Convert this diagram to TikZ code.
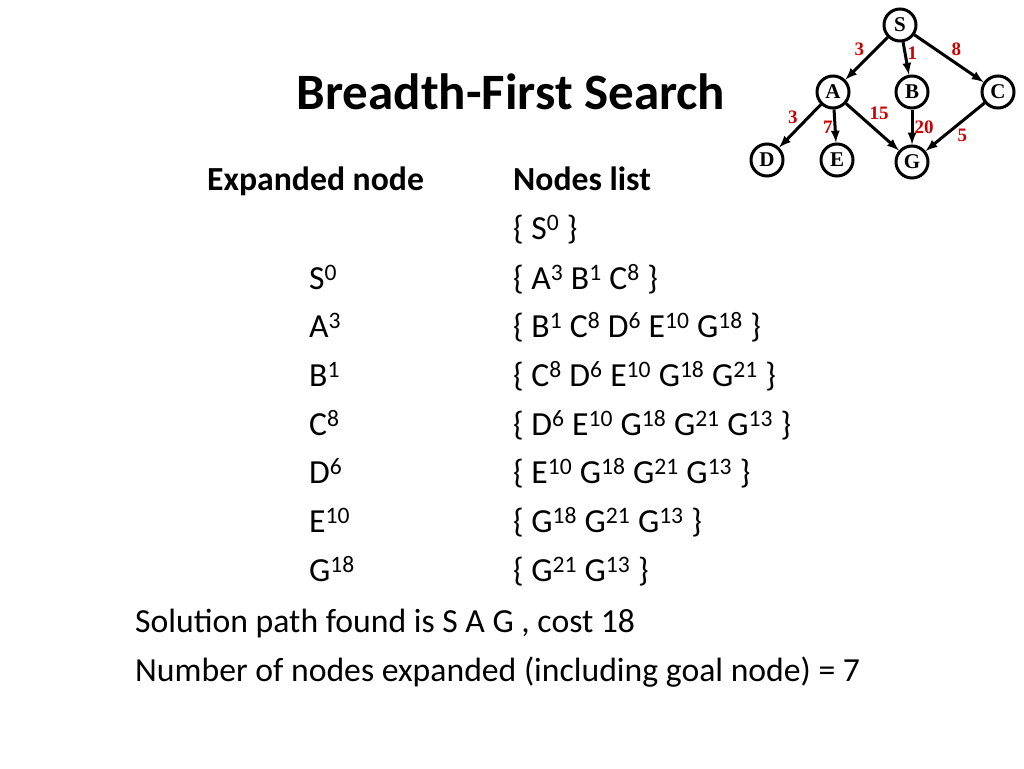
\documentclass[tikz,border=0pt]{standalone}
\usepackage{fontspec}
\setmainfont{Carlito}
\newfontfamily\graphfont{Liberation Serif}
\begin{document}
\begin{tikzpicture}[x=1pt,y=-1pt,
        txt/.style={anchor=west,inner sep=0pt,yshift=-7pt,text height=0.7em,text depth=0.2em,font=\fontsize{33.7}{35}\selectfont},
        head/.style={txt,font=\fontsize{33.7}{35}\selectfont\bfseries},
        gnode/.style={draw,circle,line width=3pt,minimum size=32pt,inner sep=0pt,font=\graphfont\bfseries\fontsize{21}{22}\selectfont},
        edge/.style={-latex,line width=3pt},
        wt/.style={text=red!80!black,font=\graphfont\bfseries\fontsize{19}{20}\selectfont,inner sep=1pt}
    ]
    \useasboundingbox (0,0) rectangle (1024,768);
    % title
    \node[font=\fontsize{51}{53}\selectfont\bfseries,inner sep=0pt] (title) at (511,92) {Breadth-First Search};
    % table
    \node[head] (hexp) at (207,181) {Expanded node};
    \node[head] (hlist) at (513,181) {Nodes list};
    \node[txt] (l0) at (513,230) {\{ S\textsuperscript{0} \}};
    \node[txt] (e1) at (309,280) {S\textsuperscript{0}};
    \node[txt] (l1) at (513,280) {\{ A\textsuperscript{3} B\textsuperscript{1} C\textsuperscript{8} \}};
    \node[txt] (e2) at (309,328) {A\textsuperscript{3}};
    \node[txt] (l2) at (513,328) {\{ B\textsuperscript{1} C\textsuperscript{8} D\textsuperscript{6} E\textsuperscript{10} G\textsuperscript{18} \}};
    \node[txt] (e3) at (309,377) {B\textsuperscript{1}};
    \node[txt] (l3) at (513,377) {\{ C\textsuperscript{8} D\textsuperscript{6} E\textsuperscript{10} G\textsuperscript{18} G\textsuperscript{21} \}};
    \node[txt] (e4) at (309,426) {C\textsuperscript{8}};
    \node[txt] (l4) at (513,426) {\{ D\textsuperscript{6} E\textsuperscript{10} G\textsuperscript{18} G\textsuperscript{21} G\textsuperscript{13} \}};
    \node[txt] (e5) at (309,474) {D\textsuperscript{6}};
    \node[txt] (l5) at (513,474) {\{ E\textsuperscript{10} G\textsuperscript{18} G\textsuperscript{21} G\textsuperscript{13} \}};
    \node[txt] (e6) at (309,523) {E\textsuperscript{10}};
    \node[txt] (l6) at (513,523) {\{ G\textsuperscript{18} G\textsuperscript{21} G\textsuperscript{13} \}};
    \node[txt] (e7) at (309,572) {G\textsuperscript{18}};
    \node[txt] (l7) at (513,572) {\{ G\textsuperscript{21} G\textsuperscript{13} \}};
    \node[txt] (sol) at (135,623) {Solution path found is S A G , cost 18};
    \node[txt] (num) at (135,672) {Number of nodes expanded (including goal node) = 7};
    % graph
    \node[gnode] (S) at (900,25) {S};
    \node[gnode] (A) at (833,92) {A};
    \node[gnode] (B) at (912,92) {B};
    \node[gnode] (C) at (998,92) {C};
    \node[gnode] (D) at (767,160) {D};
    \node[gnode] (E) at (837,160) {E};
    \node[gnode] (G) at (912,162) {G};
    \draw[edge] (S) -- node[wt,above left] {3} (A);
    \draw[edge] (S) -- node[wt,right,pos=0.35] {1} (B);
    \draw[edge] (S) -- node[wt,above right] {8} (C);
    \draw[edge] (A) -- node[wt,above left] {3} (D);
    \draw[edge] (A) -- node[wt,left,pos=0.55] {7} (E);
    \draw[edge] (A) -- node[wt,above right,pos=0.4] {15} (G);
    \draw[edge] (B) -- node[wt,right] {20} (G);
    \draw[edge] (C) -- node[wt,below right] {5} (G);
\end{tikzpicture}
\end{document}
